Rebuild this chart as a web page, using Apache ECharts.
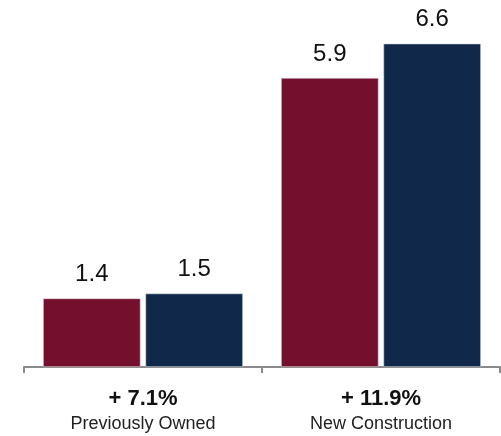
<!DOCTYPE html>
<html>
<head>
<meta charset="utf-8">
<script src="https://cdn.jsdelivr.net/npm/echarts@6/dist/echarts.min.js"></script>
<style>
  html, body { margin: 0; padding: 0; background: #fff; }
  #chart { width: 501px; height: 436px; }
</style>
</head>
<body>
<div id="chart"></div>
<script>
// Categories and their growth labels
const categories = ['Previously Owned', 'New Construction'];
const growthLabels = ['+ 7.1%', '+ 11.9%'];
// Two periods being compared
const seriesA = [1.4, 5.9];
const seriesB = [1.5, 6.6];

const chart = echarts.init(document.getElementById('chart'));
const labelStyle = {
  show: true,
  position: 'top',
  distance: 12,
  fontFamily: 'Liberation Sans, Arial, sans-serif',
  fontSize: 24,
  color: '#111'
};

chart.setOption({
  animation: false,
  grid: { left: 24, right: 1, top: 24, bottom: 69 },
  xAxis: {
    type: 'category',
    data: categories,
    axisLine: { lineStyle: { color: '#8a8a8a', width: 2 } },
    axisTick: { show: true, length: 6, lineStyle: { color: '#8a8a8a', width: 2 } },
    axisLabel: {
      margin: 18,
      formatter: (v, i) => '{g|' + growthLabels[i] + '}\n{c|' + v + '}',
      rich: {
        g: { fontFamily: 'Liberation Sans, Arial, sans-serif', fontSize: 22, fontWeight: 'bold', color: '#111', lineHeight: 27 },
        c: { fontFamily: 'Liberation Sans, Arial, sans-serif', fontSize: 18, color: '#222', lineHeight: 25 }
      }
    }
  },
  yAxis: {
    type: 'value',
    min: 0,
    max: 7,
    show: false,
    splitLine: { show: false }
  },
  series: [
    {
      type: 'bar',
      data: seriesA,
      barGap: '5%',
      barCategoryGap: '16%',
      itemStyle: { color: '#74102d', borderColor: '#e6dde0', borderWidth: 0.6 },
      label: labelStyle
    },
    {
      type: 'bar',
      data: seriesB,
      itemStyle: { color: '#10294a', borderColor: '#dde1e6', borderWidth: 0.6 },
      label: labelStyle
    }
  ]
});
</script>
</body>
</html>
